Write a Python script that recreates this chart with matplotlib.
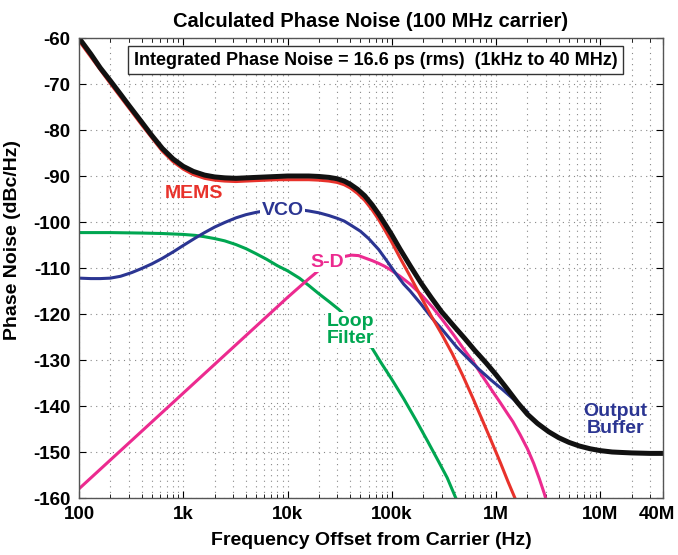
import matplotlib.pyplot as plt
from matplotlib.transforms import ScaledTranslation

plt.rcParams['font.family'] = ['Liberation Sans', 'DejaVu Sans']
plt.rcParams['font.weight'] = 'bold'
plt.rcParams['axes.unicode_minus'] = False

# total phase noise (black)
f_total = [100, 130, 160, 200, 250, 300, 400, 500, 630, 800, 1e3, 1.25e3, 1.6e3, 2e3, 2.5e3,
           3.2e3, 4e3, 5e3, 6.3e3, 8e3, 10e3, 13e3, 16e3, 20e3, 25e3, 30e3, 35e3, 40e3, 47e3,
           55e3, 65e3, 75e3, 87e3, 100e3, 120e3, 150e3, 190e3, 240e3, 300e3, 400e3, 500e3,
           630e3, 800e3, 1e6, 1.25e6, 1.6e6, 2e6, 2.5e6, 3.2e6, 4e6, 5e6, 6.3e6, 8e6, 10e6,
           13e6, 16e6, 20e6, 30e6, 40e6]
pn_total = [-60, -63.5, -66.5, -69.3, -72.2, -74.6, -78.3, -81.2, -84, -86.3, -87.9, -89,
            -89.8, -90.2, -90.4, -90.5, -90.4, -90.3, -90.2, -90.1, -90, -90, -90, -90.1,
            -90.3, -90.6, -91.1, -91.8, -92.9, -94.3, -96.3, -98.3, -100.6, -102.8, -105.9,
            -109.5, -113.2, -116.5, -119.5, -122.8, -125.3, -128, -130.6, -133.2, -136,
            -139.2, -141.8, -143.8, -145.6, -146.9, -147.9, -148.7, -149.3, -149.7, -150,
            -150.1, -150.2, -150.3, -150.3]

# MEMS (red)
f_mems = [100, 200, 400, 630, 800, 1e3, 1.25e3, 1.6e3, 2e3, 2.5e3, 3.2e3, 4e3, 5e3, 6.3e3,
          8e3, 10e3, 13e3, 16e3, 20e3, 25e3, 30e3, 35e3, 40e3, 47e3, 55e3, 65e3, 75e3, 87e3,
          100e3, 120e3, 150e3, 190e3, 240e3, 300e3, 380e3, 480e3, 600e3, 750e3, 900e3,
          1.1e6, 1.3e6, 1.55e6]
pn_mems = [-60.6, -69.9, -78.9, -84.6, -86.9, -88.5, -89.7, -90.5, -90.9, -91.1, -91.2, -91.1,
           -91, -90.9, -90.8, -90.8, -90.8, -90.8, -90.9, -91.1, -91.4, -91.9, -92.6, -93.8,
           -95.3, -97.4, -99.5, -102, -104.4, -107.8, -111.8, -116.2, -120.5, -124.3, -128.6,
           -133.4, -138.3, -143.4, -147.6, -152.3, -156.4, -160.5]

# VCO (blue)
f_vco = [100, 130, 160, 200, 250, 320, 400, 500, 630, 800, 1e3, 1.3e3, 1.6e3, 2e3, 2.5e3,
         3.2e3, 4e3, 5e3, 6.3e3, 8e3, 10e3, 13e3, 16e3, 20e3, 25e3, 30e3, 35e3, 40e3, 50e3,
         60e3, 75e3, 90e3, 110e3, 130e3, 150e3, 190e3, 245e3, 300e3, 420e3, 550e3, 700e3,
         900e3, 1.15e6, 1.45e6, 1.8e6, 2e6]
pn_vco = [-112.2, -112.3, -112.3, -112.2, -111.8, -111, -110.1, -109.1, -107.9, -106.5,
          -105.1, -103.5, -102.3, -101.1, -100.1, -99.1, -98.4, -97.9, -97.5, -97.3, -97.2,
          -97.3, -97.6, -98, -98.6, -99.2, -99.8, -100.6, -102, -103.6, -106, -108.5, -111.3,
          -113.5, -115, -117.8, -121, -123.2, -127.2, -129.9, -132.2, -134.4, -136.4, -138.4,
          -140.4, -141.3]

# Loop filter (green)
f_loop = [100, 200, 400, 630, 1e3, 1.3e3, 1.6e3, 2e3, 2.5e3, 3.2e3, 4e3, 5e3, 6.3e3, 8e3,
          10e3, 13e3, 16e3, 20e3, 25e3, 31e3, 40e3, 50e3, 65e3, 80e3, 100e3, 130e3, 170e3,
          220e3, 280e3, 340e3, 420e3]
pn_loop = [-102.3, -102.3, -102.4, -102.5, -102.7, -102.9, -103.2, -103.6, -104.1, -104.9,
           -105.8, -106.9, -108.1, -109.5, -110.6, -112.2, -113.8, -115.6, -117.3, -119,
           -121.4, -123.9, -127.5, -130.8, -134.2, -138.4, -143, -147.6, -152, -155.6, -160.5]

# Sigma-delta (magenta)
f_sd = [100, 1e3, 10e3, 15.5e3, 20e3, 25e3, 30e3, 35e3, 41e3, 48e3, 55e3, 65e3, 75e3, 85e3,
        96e3, 120e3, 150e3, 190e3, 245e3, 300e3, 400e3, 500e3, 600e3, 740e3, 900e3, 1.1e6,
        1.3e6, 1.45e6, 1.7e6, 2e6, 2.3e6, 2.6e6, 2.9e6, 3.05e6]
pn_sd = [-158, -137.2, -116.4, -112.6, -110.5, -109, -108, -107.5, -107.2, -107.3, -107.8,
         -108.4, -109, -109.6, -110.3, -111.8, -113.5, -115.7, -118.5, -121, -124.8, -127.9,
         -130.3, -133.5, -136.4, -139.3, -141.8, -143.4, -146.2, -149.3, -152.5, -155.8,
         -159, -160.7]

xticks = [100, 1e3, 1e4, 1e5, 1e6, 1e7, 4e7]
xticklabels = ['100', '1k', '10k', '100k', '1M', '10M', '40M']
yticks = list(range(-160, -59, 10))

red = '#e8322b'
navy = '#2b3592'
green = '#00a651'
magenta = '#ec2a8f'

fig = plt.figure(figsize=(6.78, 5.55), dpi=100)
ax = fig.add_axes([0.1165, 0.1027, 0.8615, 0.8288])

ax.plot(f_loop, pn_loop, color=green, lw=2.2)
ax.plot(f_sd, pn_sd, color=magenta, lw=2.2)
ax.plot(f_vco, pn_vco, color=navy, lw=2.2)
ax.plot(f_mems, pn_mems, color=red, lw=2.2)
ax.plot(f_total, pn_total, color='#111111', lw=3.6)

ax.set_xscale('log')
ax.set_xlim(100, 4e7)
ax.set_ylim(-160, -60)
ax.set_xticks(xticks)
ax.set_xticklabels(xticklabels)
ax.set_yticks(yticks)

ax.grid(True, which='major', axis='both', color='#888888', linestyle=(0, (1, 4)), lw=0.8)
ax.grid(True, which='minor', axis='x', color='#888888', linestyle=(0, (1, 4)), lw=0.8)
ax.tick_params(which='both', direction='in', top=True, right=True, labelsize=13.5, pad=6)
ax.tick_params(which='major', length=5)
ax.tick_params(which='minor', length=3)
for s in ax.spines.values():
    s.set_color('#555555')
    s.set_linewidth(1.0)

# keep the last x label inside the figure
last = ax.get_xticklabels()[-1]
last.set_horizontalalignment('right')
last.set_transform(last.get_transform() + ScaledTranslation(12 / 100, 0, fig.dpi_scale_trans))

ax.set_title('Calculated Phase Noise (100 MHz carrier)', fontsize=14.5, fontweight='bold', pad=8)
ax.set_xlabel('Frequency Offset from Carrier (Hz)', fontsize=14, fontweight='bold', labelpad=6)
ax.set_ylabel('Phase Noise (dBc/Hz)', fontsize=14, fontweight='bold', labelpad=2)
ax.yaxis.set_label_coords(-0.1, 0.56)

ax.text(0.508, 0.952, 'Integrated Phase Noise = 16.6 ps (rms)  (1kHz to 40 MHz)',
        transform=ax.transAxes, ha='center', va='center', fontsize=13, fontweight='bold',
        bbox=dict(boxstyle='square,pad=0.3', fc='white', ec='#333333', lw=1.0))

lab = dict(fontsize=14, fontweight='bold', ha='center', va='center')
ax.text(1.26e3, -93.7, 'MEMS', color=red, **lab)
ax.text(9.0e3, -97.5, 'VCO', color=navy, bbox=dict(fc='white', ec='none', pad=1), **lab)
ax.text(2.4e4, -108.7, 'S-D', color=magenta, bbox=dict(fc='white', ec='none', pad=1), **lab)
ax.text(4.0e4, -123.5, 'Loop\nFilter', color=green, linespacing=1.0,
        bbox=dict(fc='white', ec='none', pad=1), **lab)
ax.text(1.4e7, -143, 'Output\nBuffer', color=navy, linespacing=1.0, **lab)

fig.savefig('out.png', dpi=100)
